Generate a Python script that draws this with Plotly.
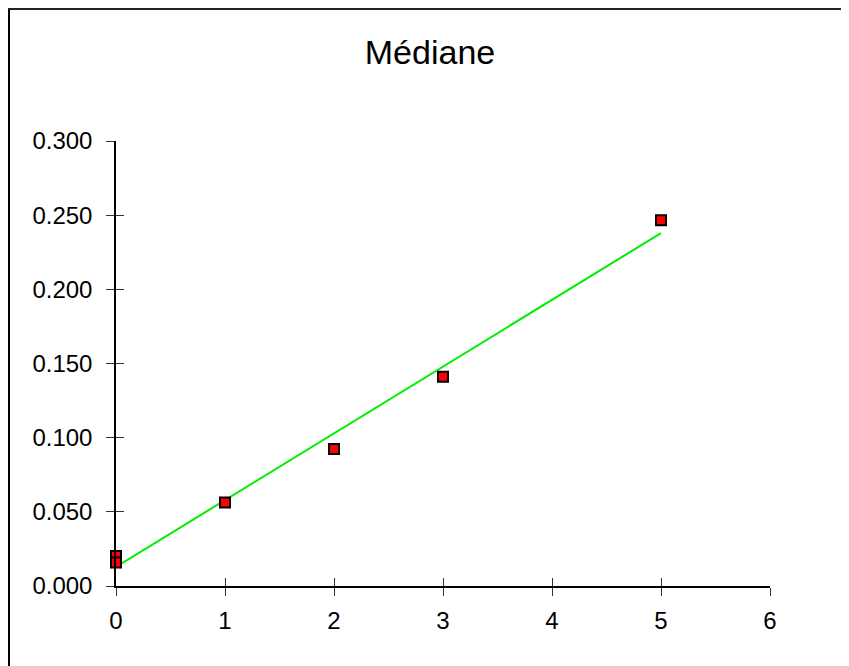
import numpy as np
import plotly.graph_objects as go

# Data
x_vals = [0, 0, 1, 2, 3, 5]
y_vals = [0.0203, 0.0158, 0.0563, 0.0924, 0.141, 0.2466]
x_ticks = [0, 1, 2, 3, 4, 5, 6]
y_ticks = [0.0, 0.05, 0.10, 0.15, 0.20, 0.25, 0.30]
title_text = "Médiane"

# Linear trend line fitted to the data
slope, intercept = np.polyfit(x_vals, y_vals, 1)
fit_x = [min(x_vals), max(x_vals)]
fit_y = [intercept + slope * v for v in fit_x]

font_family = "Liberation Sans, Arial, Helvetica, sans-serif"

# plot area geometry (figure pixels)
L, T, PW, PH = 108, 133, 654, 445
W, H = 849, 666

fig = go.Figure()
fig.add_trace(go.Scatter(
    x=fit_x, y=fit_y, mode="lines",
    line=dict(color="#00ee00", width=2),
    showlegend=False, cliponaxis=False,
))
fig.add_trace(go.Scatter(
    x=x_vals, y=y_vals, mode="markers",
    marker=dict(symbol="square", size=10, color="#ff0000",
                line=dict(color="#000000", width=2)),
    showlegend=False, cliponaxis=False,
))
# empty trace to host the overlay axes (inside tick halves)
fig.add_trace(go.Scatter(x=[None], y=[None], xaxis="x2", yaxis="y2",
                         showlegend=False, hoverinfo="skip"))

axis_common = dict(showgrid=False, zeroline=False, showline=True,
                   linecolor="#000000", linewidth=1.5,
                   ticklen=8, tickwidth=1, tickcolor="#333333",
                   tickfont=dict(family=font_family, size=24, color="#000000"))

def px_x(p):
    return (p - L) / PW

def px_y(p):
    return (T + PH - p) / PH

fig.update_layout(
    width=W, height=H,
    margin=dict(l=L, r=W - L - PW, t=T, b=H - T - PH),
    paper_bgcolor="#ffffff", plot_bgcolor="#ffffff",
    title=dict(text=title_text, x=422 / W, xanchor="center",
               y=1 - 44 / H, yanchor="middle", yref="container", xref="container",
               font=dict(family=font_family, size=34, color="#000000")),
    xaxis=dict(range=[0, 6], tickvals=x_ticks, ticktext=[str(v) for v in x_ticks],
               ticks="outside", ticklabelstandoff=4, **axis_common),
    yaxis=dict(range=[0, 0.3], tickvals=y_ticks, ticktext=[f"{v:.3f}" for v in y_ticks],
               ticks="outside", ticklabelstandoff=9, **axis_common),
    xaxis2=dict(range=[0, 6], tickvals=x_ticks, overlaying="x", anchor="y2", side="bottom",
                ticks="inside", ticklen=8, tickwidth=1, tickcolor="#333333",
                showticklabels=False, showgrid=False, zeroline=False, showline=False),
    yaxis2=dict(range=[0, 0.3], tickvals=y_ticks, overlaying="y", anchor="x2", side="left",
                ticks="inside", ticklen=8, tickwidth=1, tickcolor="#333333",
                showticklabels=False, showgrid=False, zeroline=False, showline=False),
    shapes=[
        dict(type="line", xref="paper", yref="paper",
             x0=px_x(1), x1=px_x(1), y0=px_y(0), y1=px_y(H + 20),
             line=dict(color="#000000", width=2)),
        dict(type="line", xref="paper", yref="paper",
             x0=px_x(0), x1=px_x(W + 20), y0=px_y(1), y1=px_y(1),
             line=dict(color="#222222", width=2)),
    ],
)

fig.write_html("out.html")
